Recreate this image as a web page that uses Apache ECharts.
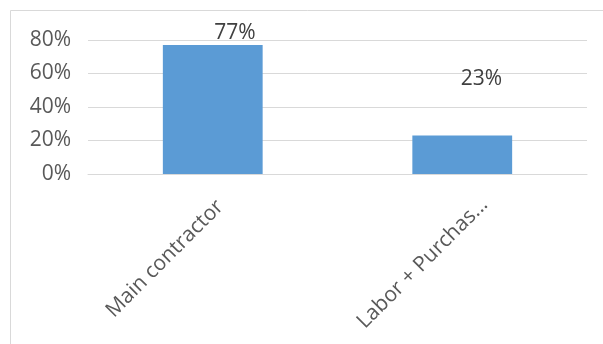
<!DOCTYPE html>
<html>
<head>
<meta charset="utf-8">
<style>
  html, body { margin: 0; padding: 0; background: #ffffff; }
  #chart { width: 603px; height: 344px; }
</style>
<script src="https://cdn.jsdelivr.net/npm/echarts@6/dist/echarts.min.js"></script>
</head>
<body>
<div id="chart"></div>
<script>
// Share of work by procurement route
const categories = ['Main contractor', 'Labor + Purchas...'];
const shares = [77, 23];
const yTicks = { min: 0, max: 80, interval: 20 };

// Per-bar data-label placement, relative to each bar's rectangle
const labelPlacement = [[72, -12], [69, -56]];
// Per-category nudge of the rotated axis labels (padding in the text frame)
const categoryLabelPadding = [[0, 0, 0, 0], [9, -12, 0, 0]];

const FONT = 'Open Sans';
const FONT_SIZE = 21;
const chart = echarts.init(document.getElementById('chart'), null, { renderer: 'canvas' });

chart.setOption({
  animation: false,
  backgroundColor: '#ffffff',
  graphic: [{
    type: 'rect',
    shape: { x: 10.5, y: 10.5, width: 620, height: 360 },
    style: { fill: 'none', stroke: '#d9d9d9', lineWidth: 1 },
    silent: true
  }],
  grid: { left: 88, right: 16, top: 40, bottom: 170, containLabel: false },
  xAxis: {
    type: 'category',
    data: categories.map((c, i) => ({
      value: c,
      textStyle: {
        verticalAlign: 'top',
        padding: categoryLabelPadding[i],
        backgroundColor: 'rgba(255,255,255,0)'
      }
    })),
    axisLine: { show: true, lineStyle: { color: '#d9d9d9', width: 1 } },
    axisTick: { show: false },
    axisLabel: {
      rotate: 45,
      interval: 0,
      margin: 22,
      verticalAlign: 'top',
      color: '#595959',
      fontFamily: FONT,
      fontSize: FONT_SIZE
    }
  },
  yAxis: {
    type: 'value',
    min: yTicks.min,
    max: yTicks.max,
    interval: yTicks.interval,
    axisLine: { show: false },
    axisTick: { show: false },
    splitLine: { lineStyle: { color: '#d9d9d9', width: 1 } },
    axisLabel: {
      margin: 17,
      color: '#595959',
      fontFamily: FONT,
      fontSize: FONT_SIZE,
      formatter: v => v + '%'
    }
  },
  series: [{
    type: 'bar',
    barCategoryGap: '60%',
    itemStyle: { color: '#5b9bd5' },
    data: shares.map((v, i) => ({
      value: v,
      label: {
        show: true,
        position: labelPlacement[i],
        align: 'center',
        verticalAlign: 'middle',
        formatter: '{c}%',
        color: '#404040',
        fontFamily: FONT,
        fontSize: FONT_SIZE
      }
    }))
  }]
});
</script>
</body>
</html>
